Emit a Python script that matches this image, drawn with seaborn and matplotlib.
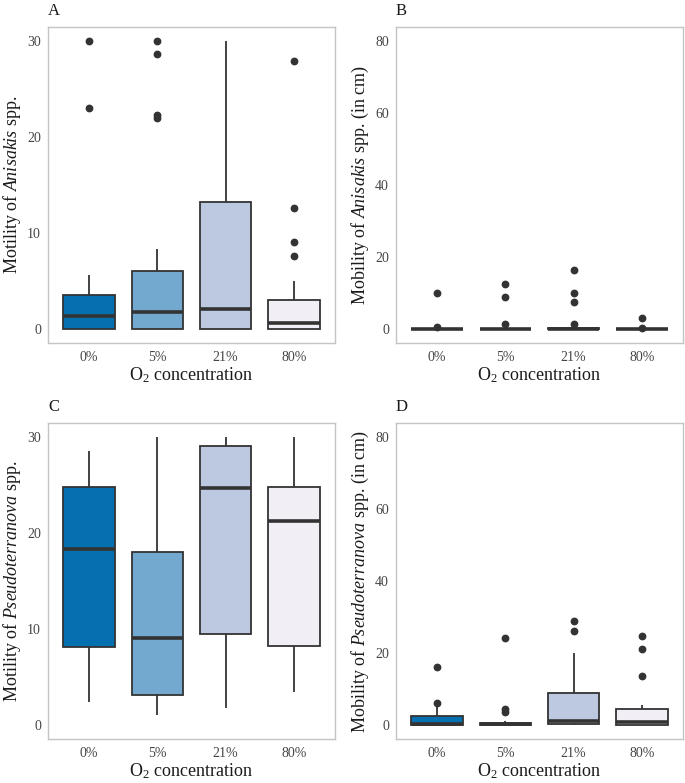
import pandas as pd
import matplotlib.pyplot as plt
import seaborn as sns

o2_levels = ['0%', '5%', '21%', '80%']
box_colors = ['#0570B0', '#74A9CF', '#BDC9E1', '#F1EEF6']

anisakis_motility = [
    [0, 0, 0, 0, 0.5, 1.0, 1.3, 2.0, 2.8, 3.5, 5.6, 23, 30],
    [0, 0, 0, 0, 0, 0, 0.3, 0.7, 1.0, 1.4, 1.7, 2.5, 3.5, 4.5, 5.3, 6.0, 8.3, 22.0, 22.3, 28.7, 30],
    [0, 0, 0, 1.0, 2.0, 5.0, 13.2, 20, 30],
    [0, 0, 0, 0, 0, 0, 0.1, 0.2, 0.3, 0.5, 0.63, 1.0, 1.5, 2.0, 2.5, 2.96, 4.94, 7.6, 9.0, 12.6, 28],
]
anisakis_mobility = [
    [0, 0, 0, 0, 0, 0, 0, 0.5, 10.0],
    [0, 0, 0, 0, 0, 0, 0, 0, 0, 0, 1.4, 8.9, 12.4],
    [0, 0, 0, 0, 0, 0, 0, 0, 0, 0.1, 0.2, 0.2, 0.3, 1.4, 7.4, 9.9, 16.4],
    [0, 0, 0, 0, 0, 0, 0, 0.2, 3.0],
]
pseudo_motility = [
    [2.4, 5.0, 8.1, 13.0, 18.3, 22.0, 24.8, 27.0, 28.6],
    [1.0, 2.0, 3.1, 6.0, 9.0, 13.0, 18.0, 25.0, 30.0],
    [1.7, 5.0, 9.5, 18.0, 24.7, 27.0, 29.1, 30.0, 30.0],
    [3.4, 6.0, 8.2, 15.0, 21.3, 23.0, 24.8, 28.0, 30.0],
]
pseudo_mobility = [
    [0, 0, 0, 0, 0.1, 0.2, 0.3, 1.0, 1.8, 2.3, 4.9, 6.0, 16.0],
    [0, 0, 0, 0, 0, 0, 0, 0.05, 0.1, 0.2, 0.3, 0.4, 0.5, 0.9, 3.5, 4.4, 24.0],
    [0, 0, 0.1, 0.2, 0.4, 0.7, 1.0, 3.0, 6.0, 8.9, 20.0, 26.0, 29.0],
    [0, 0, 0, 0, 0, 0.1, 0.3, 0.5, 0.65, 1.5, 2.5, 3.5, 4.3, 5.4, 13.5, 21.0, 24.6],
]


def to_long(groups):
    rows = []
    for level, values in zip(o2_levels, groups):
        for v in values:
            rows.append({'o2': level, 'value': v})
    return pd.DataFrame(rows)


sns.set_style('white')
plt.rcParams['font.family'] = ['Liberation Serif', 'DejaVu Serif']
plt.rcParams['mathtext.fontset'] = 'custom'
plt.rcParams['mathtext.rm'] = 'Liberation Serif'
plt.rcParams['mathtext.it'] = 'Liberation Serif:italic'

fig = plt.figure(figsize=(6.85, 7.83), dpi=100)
W, H = 685, 783
lefts = [48, 396]
tops = [27, 423]
aw, ah = 287, 316

panels = [
    ('A', anisakis_motility, r'Motility of $\mathit{Anisakis}$ spp.', (-1.5, 31.5), [0, 10, 20, 30]),
    ('B', anisakis_mobility, r'Mobility of $\mathit{Anisakis}$ spp. (in cm)', (-4, 84), [0, 20, 40, 60, 80]),
    ('C', pseudo_motility, r'Motility of $\mathit{Pseudoterranova}$ spp.', (-1.5, 31.5), [0, 10, 20, 30]),
    ('D', pseudo_mobility, r'Mobility of $\mathit{Pseudoterranova}$ spp. (in cm)', (-4, 84), [0, 20, 40, 60, 80]),
]

for i, (tag, groups, ylabel, ylim, yticks) in enumerate(panels):
    left = lefts[i % 2]
    top = tops[i // 2]
    ax = fig.add_axes([left / W, 1 - (top + ah) / H, aw / W, ah / H])
    df = to_long(groups)
    sns.boxplot(data=df, x='o2', y='value', hue='o2', order=o2_levels, hue_order=o2_levels,
                palette=box_colors, legend=False, saturation=1, width=0.75,
                linewidth=1.3, linecolor='#333333', showcaps=False, fliersize=4.6,
                medianprops={'linewidth': 2.6},
                flierprops={'marker': 'o', 'markerfacecolor': '#333333',
                            'markeredgecolor': '#333333'},
                ax=ax)
    ax.set_xlim(-0.6, 3.6)
    ax.set_ylim(*ylim)
    ax.set_yticks(yticks)
    ax.set_ylabel(ylabel, fontsize=13, color='#1a1a1a')
    ax.set_xlabel(r'O$_2$ concentration', fontsize=13, color='#1a1a1a')
    ax.yaxis.set_label_coords(-0.088, 0.5)
    ax.xaxis.set_label_coords(0.5, -0.072)
    ax.xaxis.label.set_va('top')
    for s in ax.spines.values():
        s.set_color('#c4c4c4')
        s.set_linewidth(1.0)
    ax.tick_params(axis='both', length=3, width=0.8, color='#b3b3b3',
                   labelcolor='#454545', labelsize=10, pad=2)
    ax.tick_params(axis='x', pad=3)
    ax.text(0.0, 1.038, tag, transform=ax.transAxes, fontsize=12, color='#1a1a1a',
            ha='left', va='baseline')

fig.savefig('out.png', dpi=100, facecolor='white')
